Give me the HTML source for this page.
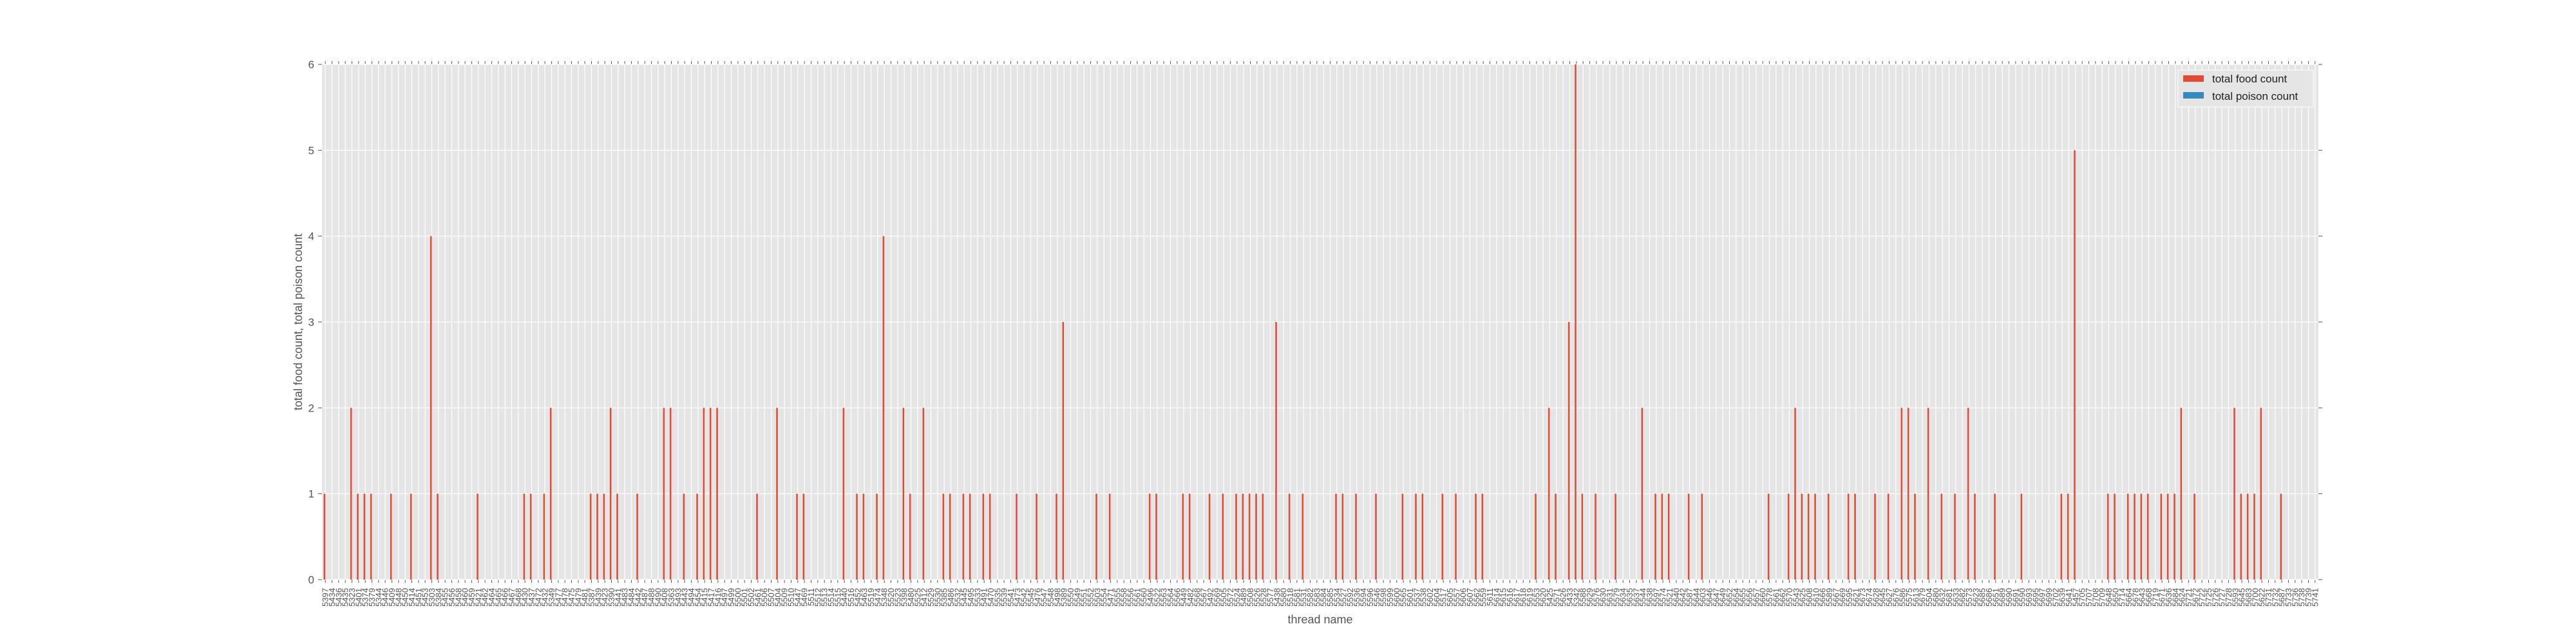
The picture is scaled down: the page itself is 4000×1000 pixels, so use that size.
<!DOCTYPE html>
<html><head><meta charset="utf-8"><style>
html,body{margin:0;padding:0;background:#fff;}
svg{display:block;font-family:"Liberation Sans","DejaVu Sans",sans-serif;}
</style></head><body>
<svg id="chart" width="4000" height="1000" xmlns="http://www.w3.org/2000/svg">
<rect x="0" y="0" width="4000" height="1000" fill="#fff"/>
<g id="plot"></g>
</svg>
<script>
const categories = [
"5397","5434","5436","5435","5323","5401","5374","5379","5344","5446","5409","5448","5450","5414","5451","5453","5303","5384","5455","5456",
"5458","5460","5459","5421","5462","5464","5465","5466","5467","5468","5430","5437","5472","5432","5349","5477","5478","5475","5479","5481",
"5387","5439","5423","5390","5441","5483","5484","5442","5487","5488","5490","5408","5363","5493","5443","5494","5454","5415","5417","5416",
"5497","5499","5500","5501","5502","5461","5506","5507","5404","5509","5510","5447","5469","5511","5512","5513","5514","5515","5440","5516",
"5452","5463","5519","5474","5348","5520","5523","5398","5480","5525","5412","5529","5530","5385","5486","5532","5445","5495","5533","5491",
"5470","5535","5539","5541","5473","5542","5545","5476","5547","5548","5498","5389","5550","5549","5551","5552","5503","5554","5471","5555",
"5558","5556","5561","5560","5496","5522","5563","5564","5566","5449","5482","5568","5567","5492","5569","5505","5572","5524","5489","5508",
"5526","5528","5577","5438","5580","5518","5581","5531","5582","5583","5584","5585","5534","5527","5592","5536","5594","5596","5546","5598",
"5599","5600","5565","5601","5537","5538","5602","5604","5517","5605","5557","5606","5607","5562","5559","5611","5614","5615","5616","5617",
"5618","5619","5553","5620","5425","5571","5626","5433","5342","5588","5629","5576","5630","5631","5579","5634","5635","5637","5544","5638",
"5597","5574","5521","5640","5642","5587","5644","5603","5646","5647","5649","5652","5654","5655","5656","5657","5660","5578","5661","5662",
"5570","5543","5625","5608","5610","5666","5589","5667","5669","5595","5621","5673","5674","5628","5645","5627","5676","5586","5575","5613",
"5679","5504","5680","5632","5681","5633","5682","5573","5623","5685","5686","5651","5689","5690","5691","5590","5693","5695","5697","5699",
"5702","5639","5641","5457","5705","5707","5708","5709","5648","5650","5714","5664","5678","5643","5668","5719","5671","5636","5684","5624",
"5721","5672","5722","5725","5726","5727","5728","5593","5645","5683","5700","5622","5731","5732","5687","5733","5736","5738","5739","5741"
];
const foodCounts = [
1,0,0,0,2,1,1,1,0,0,1,0,0,1,0,0,4,1,0,0,
0,0,0,1,0,0,0,0,0,0,1,1,0,1,2,0,0,0,0,0,
1,1,1,2,1,0,0,1,0,0,0,2,2,0,1,0,1,2,2,2,
0,0,0,0,0,1,0,0,2,0,0,1,1,0,0,0,0,0,2,0,
1,1,0,1,4,0,0,2,1,0,2,0,0,1,1,0,1,1,0,1,
1,0,0,0,1,0,0,1,0,0,1,3,0,0,0,0,1,0,1,0,
0,0,0,0,1,1,0,0,0,1,1,0,0,1,0,1,0,1,1,1,
1,1,0,3,0,1,0,1,0,0,0,0,1,1,0,1,0,0,1,0,
0,0,1,0,1,1,0,0,1,0,1,0,0,1,1,0,0,0,0,0,
0,0,1,0,2,1,0,3,6,1,0,1,0,0,1,0,0,0,2,0,
1,1,1,0,0,1,0,1,0,0,0,0,0,0,0,0,0,1,0,0,
1,2,1,1,1,0,1,0,0,1,1,0,0,1,0,1,0,2,2,1,
0,2,0,1,0,1,0,2,1,0,0,1,0,0,0,1,0,0,0,0,
0,1,1,5,0,0,0,0,1,1,0,1,1,1,1,0,1,1,1,2,
0,1,0,0,0,0,0,2,1,1,1,2,0,0,1,0,0,0,0,0
];
const poisonCounts = new Array(categories.length).fill(0);
const yTicks = [0,1,2,3,4,5,6];

const NS = "http://www.w3.org/2000/svg";
const L = 500, R = 3600, T = 100, B = 900, yMax = 6;
const n = categories.length;
const step = (R - L) / n;
function xScale(i){ return L + step * (i + 0.5); }
function yScale(v){ return B - (v / yMax) * (B - T); }
const g = document.getElementById('plot');
function mk(tag, attrs, parent){
  const e = document.createElementNS(NS, tag);
  for (const k in attrs) e.setAttribute(k, attrs[k]);
  (parent || g).appendChild(e);
  return e;
}
const bg = mk('rect', {x:L, y:T, width:R-L, height:B-T, fill:'#e5e5e5'});


// gridlines
for (let i = 0; i < n; i++) {
  const x = xScale(i);
  const gl = mk('line', {x1:x, x2:x, y1:T, y2:B, stroke:'#fff', 'stroke-width':1.2});
  
  
  const t1 = mk('line', {x1:x, x2:x, y1:B, y2:B+5, stroke:'#555', 'stroke-width':1});
  
  
  const t2 = mk('line', {x1:x, x2:x, y1:T-5, y2:T, stroke:'#555', 'stroke-width':1});
  
  
  const lb = mk('text', {transform:`translate(${x+4.5},913) rotate(-90)`, 'text-anchor':'end', 'font-size':13, fill:'#555'});
  lb.textContent = categories[i];
  
  
}
yTicks.forEach(v => {
  const y = yScale(v);
  const gl = mk('line', {x1:L, x2:R, y1:y, y2:y, stroke:'#fff', 'stroke-width':1.2});
  
  
  const t1 = mk('line', {x1:L-6, x2:L, y1:y, y2:y, stroke:'#555', 'stroke-width':1});
  
  
  const t2 = mk('line', {x1:R, x2:R+6, y1:y, y2:y, stroke:'#555', 'stroke-width':1});
  
  
  const lb = mk('text', {x:L-12, y:y+6, 'text-anchor':'end', 'font-size':17, fill:'#555'});
  lb.textContent = String(v);
  
  
});
const bw = step * 0.25;
for (let i = 0; i < n; i++) {
  const c = xScale(i);
  if (foodCounts[i] > 0) {
    const b = mk('rect', {x:c-bw, y:yScale(foodCounts[i]), width:bw, height:B-yScale(foodCounts[i]), fill:'#E24A33'});
    
    
  }
  if (poisonCounts[i] > 0) {
    const b = mk('rect', {x:c, y:yScale(poisonCounts[i]), width:bw, height:B-yScale(poisonCounts[i]), fill:'#348ABD'});
    
    
  }
}
const yt = mk('text', {transform:'translate(469,500) rotate(-90)', 'text-anchor':'middle', 'font-size':18, fill:'#555'});
yt.textContent = 'total food count, total poison count';


const xt = mk('text', {x:2050, y:968, 'text-anchor':'middle', 'font-size':18, fill:'#555'});
xt.textContent = 'thread name';


// legend
const lg = mk('g', {});


mk('rect', {x:3382, y:109, width:210, height:57, fill:'#e5e5e5', stroke:'#fff', 'stroke-width':1}, lg);
const e1 = mk('g', {}, lg);


mk('rect', {x:3390, y:117, width:32, height:10, fill:'#E24A33'}, e1);
const t1 = mk('text', {x:3435, y:128, 'font-size':17, fill:'#222'}, e1);
t1.textContent = 'total food count';
const e2 = mk('g', {}, lg);


mk('rect', {x:3390, y:143, width:32, height:10, fill:'#348ABD'}, e2);
const t2 = mk('text', {x:3435, y:155, 'font-size':17, fill:'#222'}, e2);
t2.textContent = 'total poison count';
</script>
</body></html>
